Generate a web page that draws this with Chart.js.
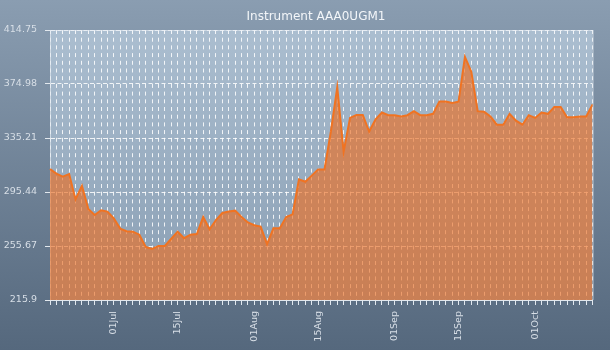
<!DOCTYPE html>
<html>
<head>
<meta charset="utf-8">
<title>Instrument AAA0UGM1</title>
<script src="https://cdn.jsdelivr.net/npm/chart.js@4.4.1/dist/chart.umd.min.js"></script>
<style>
  html, body { margin: 0; padding: 0; }
  #wrap { width: 610px; height: 350px; background: linear-gradient(#8a9db1, #55687d); }
</style>
</head>
<body>
<div id="wrap"><canvas id="priceChart" width="610" height="350"></canvas></div>
<script>
'use strict'

const chartTitle = 'Instrument AAA0UGM1'

// trading days, 2010
const dates = [
  '2010-06-17', '2010-06-18', '2010-06-21', '2010-06-22', '2010-06-23', '2010-06-24', '2010-06-25',
  '2010-06-28', '2010-06-29', '2010-06-30',
  '2010-07-01', '2010-07-02', '2010-07-05', '2010-07-06', '2010-07-07', '2010-07-08', '2010-07-09',
  '2010-07-12', '2010-07-13', '2010-07-14', '2010-07-15', '2010-07-16', '2010-07-19', '2010-07-20',
  '2010-07-21', '2010-07-22', '2010-07-23', '2010-07-26', '2010-07-27', '2010-07-28', '2010-07-29',
  '2010-07-30',
  '2010-08-02', '2010-08-03', '2010-08-04', '2010-08-05', '2010-08-06', '2010-08-09', '2010-08-10',
  '2010-08-11', '2010-08-12', '2010-08-13', '2010-08-16', '2010-08-17', '2010-08-18', '2010-08-19',
  '2010-08-20', '2010-08-23', '2010-08-24', '2010-08-25', '2010-08-26', '2010-08-27', '2010-08-30',
  '2010-08-31',
  '2010-09-01', '2010-09-02', '2010-09-03', '2010-09-06', '2010-09-07', '2010-09-08', '2010-09-09',
  '2010-09-10', '2010-09-13', '2010-09-14', '2010-09-15', '2010-09-16', '2010-09-17', '2010-09-20',
  '2010-09-21', '2010-09-22', '2010-09-23', '2010-09-24', '2010-09-27', '2010-09-28', '2010-09-29',
  '2010-09-30',
  '2010-10-01', '2010-10-04', '2010-10-05', '2010-10-06', '2010-10-07', '2010-10-08', '2010-10-11',
  '2010-10-12', '2010-10-13', '2010-10-14'
]

const prices = [
  312.40, 309.00, 306.80, 308.70, 290.00, 300.00, 283.00, 278.50, 282.00, 281.00,
  276.00, 268.50, 266.50, 266.20, 264.00, 255.00, 253.50, 255.70, 255.70, 261.00,
  266.20, 261.40, 264.00, 264.50, 277.00, 268.00, 274.80, 280.00, 281.00, 281.70,
  277.00, 273.00, 271.00, 270.00, 257.00, 268.70, 268.70, 277.00, 279.00, 304.80,
  303.00, 307.50, 312.10, 312.10, 340.00, 372.50, 325.10, 350.00, 352.10, 352.10,
  340.00, 349.00, 354.00, 352.00, 352.00, 351.00, 352.00, 355.00, 352.00, 352.00,
  353.00, 362.00, 362.00, 361.00, 362.00, 395.00, 384.00, 355.00, 354.60, 351.00,
  345.00, 345.00, 353.00, 348.00, 345.00, 352.00, 350.00, 354.00, 353.00, 358.00,
  358.00, 350.50, 350.50, 351.00, 351.00, 360.00
]

// labelled dates on the time axis (placed on the first trading day on or after)
const tickDates = ['2010-07-01', '2010-07-15', '2010-08-01', '2010-08-15', '2010-09-01', '2010-09-15', '2010-10-01']
const tickLabels = ['01Jul', '15Jul', '01Aug', '15Aug', '01Sep', '15Sep', '01Oct']

const yTicks = [215.9, 255.67, 295.44, 335.21, 374.98, 414.75]

const labelAt = {}
tickDates.forEach((d, k) => {
  const idx = dates.findIndex(t => t >= d)
  if (idx >= 0) labelAt[idx] = tickLabels[k]
})

Chart.defaults.font.family = '"DejaVu Sans", sans-serif'
Chart.defaults.color = '#d8dfe7'

// plot panel, right edge and title
const panel = {
  id: 'panel',
  beforeDraw(chart) {
    const { ctx, chartArea: a } = chart
    const g = ctx.createLinearGradient(0, a.top, 0, a.bottom)
    g.addColorStop(0, '#abbed0')
    g.addColorStop(1, '#899eb3')
    ctx.save()
    ctx.fillStyle = g
    ctx.fillRect(a.left, a.top, a.right - a.left, a.bottom - a.top)
    ctx.restore()
  },
  afterDraw(chart) {
    const { ctx, chartArea: a } = chart
    ctx.save()
    ctx.strokeStyle = 'rgba(225,232,240,0.6)'
    ctx.lineWidth = 1
    ctx.beginPath()
    ctx.moveTo(a.right + 0.5, a.top)
    ctx.lineTo(a.right + 0.5, a.bottom)
    ctx.moveTo(a.left, a.top + 0.5)
    ctx.lineTo(a.right, a.top + 0.5)
    ctx.stroke()
    ctx.fillStyle = '#f3f6f9'
    ctx.font = '12px "DejaVu Sans", sans-serif'
    ctx.textAlign = 'center'
    ctx.textBaseline = 'middle'
    ctx.fillText(chartTitle, chart.width / 2 + 11, 17)
    ctx.restore()
  }
}

const ctx = document.getElementById('priceChart')
const priceChart = new Chart(ctx, {
  type: 'line',
  data: {
    labels: dates,
    datasets: [{
      data: prices,
      fill: 'start',
      backgroundColor: 'rgba(235,110,35,0.65)',
      borderColor: '#f07322',
      borderWidth: 2,
      pointRadius: 0,
      tension: 0
    }]
  },
  options: {
    responsive: false,
    animation: false,
    layout: { padding: { top: 30, right: 15, left: 0, bottom: 0 } },
    plugins: {
      legend: { display: false },
      tooltip: { enabled: false }
    },
    scales: {
      x: {
        type: 'category',
        offset: false,
        afterFit(scale) { scale.height = 50 },
        grid: {
          color: 'rgba(255,255,255,0.85)',
          tickColor: '#e2e8ee',
          tickBorderDash: [],
          tickLength: 5
        },
        border: { color: '#e2e8ee', width: 1, dash: [4, 3.7] },
        ticks: {
          autoSkip: false,
          minRotation: 90,
          maxRotation: 90,
          padding: 6,
          font: { size: 9.5 },
          callback: (v, i) => labelAt[i] || ''
        }
      },
      y: {
        min: 215.9,
        max: 414.75,
        afterFit(scale) { scale.width = 50 },
        afterBuildTicks(scale) { scale.ticks = yTicks.map(v => ({ value: v })) },
        grid: {
          color: 'rgba(255,255,255,0.85)',
          tickColor: '#e2e8ee',
          tickBorderDash: [],
          tickLength: 5
        },
        border: { color: 'rgba(225,232,240,0.7)', width: 1, dash: [4, 2.5] },
        ticks: {
          padding: 8,
          font: { size: 9.5 },
          callback: v => String(v)
        }
      }
    }
  },
  plugins: [panel]
})
</script>
</body>
</html>
